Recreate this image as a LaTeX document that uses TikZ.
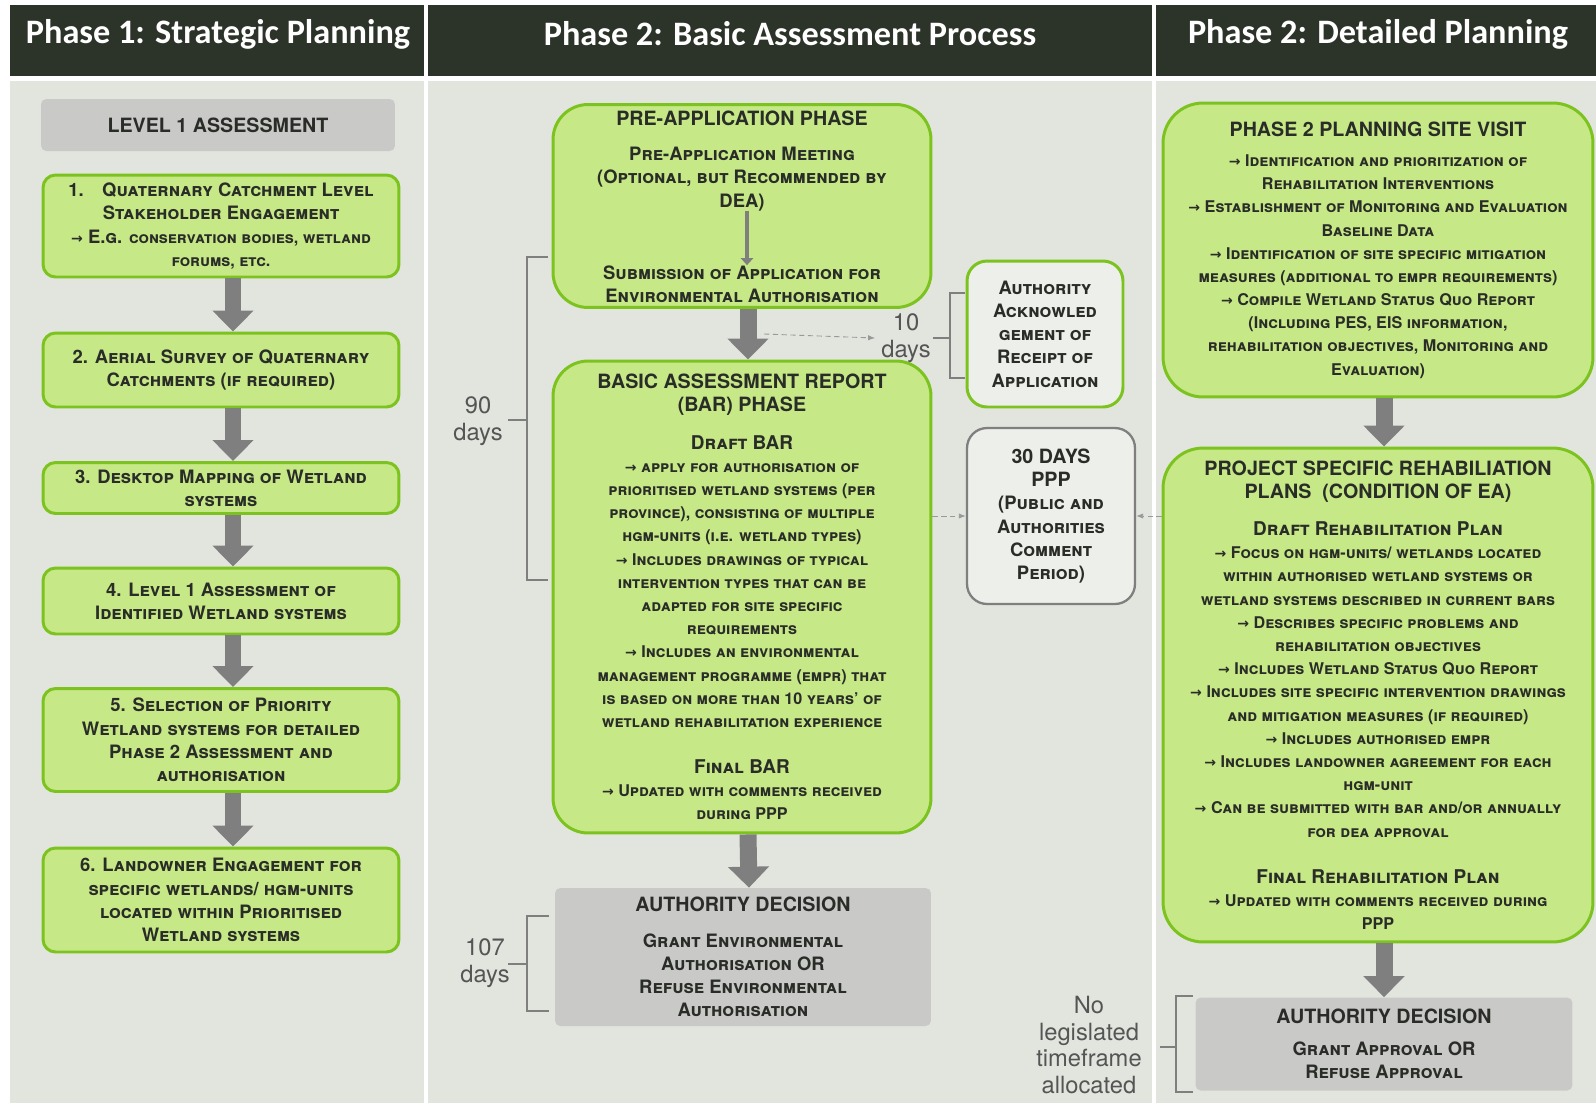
\documentclass[tikz,border=0pt]{standalone}
\usepackage{fontspec}
\setmainfont{TeX Gyre Heros}
\newfontfamily\hdrfont{Carlito}
\newfontfamily\arrowfont{DejaVu Sans}
\usetikzlibrary{arrows.meta}

\definecolor{hdrdark}{HTML}{2C3329}
\definecolor{bodybg}{HTML}{E1E5DE}
\definecolor{boxfill}{HTML}{C6E887}
\definecolor{boxline}{HTML}{7DC31F}
\definecolor{decgray}{HTML}{C9CAC8}
\definecolor{arrowgray}{HTML}{7F7F7F}
\definecolor{txtdark}{HTML}{2A2D27}
\definecolor{dayscol}{HTML}{555555}

\newcommand{\rarr}{{\arrowfont\fontsize{8}{13.2}\selectfont →}\ }
\newcommand{\ttl}{\fontsize{11.2}{13.2}\selectfont\upshape}
\newcommand{\subttl}{\fontsize{10.8}{13.2}\selectfont}
\newcommand{\sml}{\fontsize{9.2}{13.2}\selectfont}

\begin{document}
\begin{tikzpicture}[
    x=0.02cm, y=-0.02cm,
    boxtxt/.style={align=center, inner sep=0pt, text=txtdark,
        font=\bfseries\scshape\fontsize{10.5}{13.2}\selectfont},
    greenbox/.style={boxtxt, draw=boxline, line width=1.7pt, fill=boxfill, rounded corners=#1},
    greenbox/.default=0.25cm,
    decbox/.style={boxtxt, fill=decgray, rounded corners=3pt},
    pppbox/.style={boxtxt, draw=arrowgray, line width=1.3pt, fill=bodybg!60!white, rounded corners=0.4cm},
    hdrtxt/.style={text=white, font=\hdrfont\bfseries\fontsize{19.5}{22}\selectfont},
    dayslbl/.style={text=dayscol, align=center, font=\fontsize{13.5}{15.2}\selectfont},
    bigarrow/.style={draw=arrowgray, line width=0.34cm, -{Triangle[width=0.8cm,length=0.42cm]}},
    thinarrow/.style={draw=arrowgray, line width=2.6pt, -{Triangle[width=7pt,length=4pt]}},
    dotarrow/.style={draw=arrowgray!80, densely dashed, line width=0.5pt, -{Latex[length=4pt,width=3pt]}},
    bracket/.style={draw=arrowgray, line width=1.3pt}
]
\useasboundingbox (0,0) rectangle (1596,1103);
\fill[white] (0,0) rectangle (1596,1103);

% header and column backgrounds
\fill[hdrdark] (10,5) rectangle (1596,76);
\fill[bodybg] (10,81) rectangle (1596,1103);
\draw[white, line width=2pt] (426,5) -- (426,1103) (1154,5) -- (1154,1103);

\node[hdrtxt] (h1) at (218,34) {Phase 1: Strategic Planning};
\node[hdrtxt] (h2) at (790,34) {Phase 2: Basic Assessment Process};
\node[hdrtxt] (h3) at (1378,34) {Phase 2: Detailed Planning};

% phase 1
\node[decbox, minimum width=7.08cm, minimum height=1.04cm] (lvl) at (218,125) {\ttl LEVEL 1 ASSESSMENT};
\node[greenbox, minimum width=7.12cm, minimum height=2.04cm] (s1) at (221,226)
    {1.\quad Quaternary Catchment Level\\ Stakeholder Engagement\\ \rarr E.g. {\sml conservation bodies, wetland}\\ {\sml forums, etc.}};
\node[greenbox, minimum width=7.12cm, minimum height=1.48cm] (s2) at (221,370)
    {2. Aerial Survey of Quaternary\\ Catchments (if required)};
\node[greenbox, minimum width=7.12cm, minimum height=1.02cm] (s3) at (221,488)
    {3. Desktop Mapping of Wetland\\ systems};
\node[greenbox, minimum width=7.12cm, minimum height=1.32cm] (s4) at (221,601)
    {4. Level 1 Assessment of\\ Identified Wetland systems};
\node[greenbox, minimum width=7.12cm, minimum height=2.06cm] (s5) at (221,740)
    {5. Selection of Priority\\ Wetland systems for detailed\\ Phase 2 Assessment and\\ authorisation};
\node[greenbox, minimum width=7.12cm, minimum height=2.08cm] (s6) at (221,900)
    {6. Landowner Engagement for\\ specific wetlands/ hgm-units\\ located within Prioritised\\ Wetland systems};

\foreach \a/\b in {s1/s2, s2/s3, s3/s4, s4/s5, s5/s6}
    \draw[bigarrow] ([xshift=0.24cm]\a.south) -- ([xshift=0.24cm]\b.north);

% phase 2 basic assessment
\node[greenbox=0.7cm, minimum width=7.56cm, minimum height=4.06cm] (pre) at (742,206) {};
\node[boxtxt] (pretitle) at (742,118) {\ttl PRE-APPLICATION PHASE};
\node[boxtxt] (premeet) at (742,179) {Pre-Application Meeting\\ (Optional, but Recommended by\\ DEA)};
\node[boxtxt] (presub) at (742,284) {Submission of Application for\\ Environmental Authorisation};
\draw[thinarrow] ([xshift=0.1cm]premeet.south) -- ([xshift=0.1cm]presub.north);

\node[greenbox=0.7cm, minimum width=7.56cm, minimum height=9.44cm] (bar) at (742,597)
    {\ttl BASIC ASSESSMENT REPORT\\ \ttl (BAR) PHASE\\[8pt]
     \subttl Draft BAR\\
     {\sml\rarr apply for authorisation of}\\ {\sml prioritised wetland systems (per}\\
     {\sml province), consisting of multiple}\\ {\sml hgm-units (i.e. wetland types)}\\
     {\sml\rarr Includes drawings of typical}\\ {\sml intervention types that can be}\\
     {\sml adapted for site specific}\\ {\sml requirements}\\
     {\sml\rarr Includes an environmental}\\ {\sml management programme (empr) that}\\
     {\sml is based on more than 10 years' of}\\ {\sml wetland rehabilitation experience}\\[13pt]
     \subttl Final BAR\\
     {\sml\rarr Updated with comments received}\\ {\sml during PPP}};

\node[decbox, minimum width=7.52cm, minimum height=2.76cm] (dec1) at (743,957)
    {\ttl AUTHORITY DECISION\\[7pt] Grant Environmental\\ Authorisation OR\\ Refuse Environmental\\ Authorisation};

\draw[bigarrow] ([xshift=0.12cm]pre.south) -- ([xshift=0.12cm]bar.north);
\draw[bigarrow] ([xshift=0.12cm]bar.south) -- ([xshift=0.12cm]dec1.north);

\node[greenbox=0.4cm, fill=bodybg!60!white, minimum width=3.12cm, minimum height=2.92cm] (ack) at (1045,334)
    {Authority\\ Acknowled\\ gement of\\ Receipt of\\ Application};
\node[pppbox, minimum width=3.36cm, minimum height=3.52cm] (ppp) at (1051,516)
    {\ttl 30 DAYS\\ \ttl PPP\\ (Public and\\ Authorities\\ Comment\\ Period)};

\node[dayslbl] (d10) at (906,338) {10\\days};
\coordinate (tenfrom) at (764,334);
\draw[dotarrow] (tenfrom) -- (d10.west);
\draw[bracket] (965,293) -- (950,293) -- (950,378) -- (965,378) (950,338) -- (933,338);

\node[dayslbl] (d90) at (478,421) {90\\days};
\draw[bracket] (548,257) -- (527,257) -- (527,580) -- (548,580) (527,420) -- (508,420);

\node[dayslbl] (d107) at (485,963) {107\\days};
\draw[bracket] (549,916) -- (527,916) -- (527,1011) -- (549,1011) (527,964) -- (508,964);

% phase 2 detailed planning
\node[greenbox=0.8cm, minimum width=8.6cm, minimum height=5.88cm] (site) at (1378,250)
    {\ttl PHASE 2 PLANNING SITE VISIT\\[4pt]
     {\sml\rarr Identification and prioritization of}\\ {\sml Rehabilitation Interventions}\\
     {\sml\rarr Establishment of Monitoring and Evaluation}\\ {\sml Baseline Data}\\
     {\sml\rarr Identification of site specific mitigation}\\ {\sml measures (additional to empr requirements)}\\
     {\sml\rarr Compile Wetland Status Quo Report}\\ {\sml (Including PES, EIS information,}\\
     {\sml rehabilitation objectives, Monitoring and}\\ {\sml Evaluation)}};

\node[greenbox=0.8cm, minimum width=8.6cm, minimum height=9.88cm] (rehab) at (1378,695)
    {\ttl PROJECT SPECIFIC REHABILIATION\\ \ttl PLANS~~(CONDITION OF EA)\\[8pt]
     \subttl Draft Rehabilitation Plan\\
     {\sml\rarr Focus on hgm-units/ wetlands located}\\ {\sml within authorised wetland systems or}\\
     {\sml wetland systems described in current bars}\\
     {\sml\rarr Describes specific problems and}\\ {\sml rehabilitation objectives}\\
     {\sml\rarr Includes Wetland Status Quo Report}\\
     {\sml\rarr Includes site specific intervention drawings}\\ {\sml and mitigation measures (if required)}\\
     {\sml\rarr Includes authorised empr}\\
     {\sml\rarr Includes landowner agreement for each}\\ {\sml hgm-unit}\\
     {\sml\rarr Can be submitted with bar and/or annually}\\ {\sml for dea approval}\\[13pt]
     \subttl Final Rehabilitation Plan\\
     {\sml\rarr Updated with comments received during}\\ {\sml PPP}};

\node[decbox, minimum width=7.54cm, minimum height=1.86cm] (dec2) at (1384,1044)
    {\ttl AUTHORITY DECISION\\[5pt] Grant Approval OR\\ Refuse Approval};

\draw[bigarrow] ([xshift=0.12cm]site.south) -- ([xshift=0.12cm]rehab.north);
\draw[bigarrow] ([xshift=0.12cm]rehab.south) -- ([xshift=0.12cm]rehab.south |- dec2.north);

\draw[dotarrow] (bar.east |- ppp.west) -- (ppp.west);
\draw[dotarrow] (rehab.west |- ppp.east) -- (ppp.east);

\node[dayslbl] (dnone) at (1089,1045) {No\\legislated\\timeframe\\allocated};
\draw[bracket] (1193,996) -- (1176,996) -- (1176,1092) -- (1193,1092) (1176,1047) -- (1160,1047);
\end{tikzpicture}
\end{document}
